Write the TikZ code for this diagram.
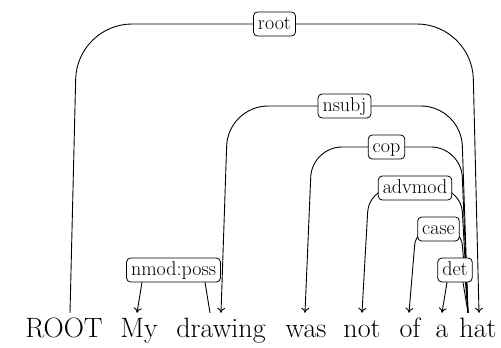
\documentclass[tikz,border=0pt]{standalone}
\usepackage{fontspec}
\usetikzlibrary{arrows.meta,calc,backgrounds}
\begin{document}
\begin{tikzpicture}[x=1pt,y=-1pt,
  word/.style={anchor=base, inner sep=0pt, text height=24pt, text depth=6pt,
    font=\fontsize{28}{32}\selectfont},
  deplabel/.style={draw, fill=white, line width=0.8pt, rounded corners=4pt,
    inner xsep=4.5pt, inner ysep=3pt, text height=14pt, text depth=4pt,
    font=\fontsize{20}{24}\selectfont},
  depedge/.style={line width=0.9pt, -{To[length=5pt,width=8pt]}},
]
\useasboundingbox (0,0) rectangle (501,348);

% the sentence
\node[word] (w0) at (64,337)  {ROOT};
\node[word] (w1) at (139,337) {My};
\node[word] (w2) at (221,337) {drawing};
\node[word] (w3) at (306,337) {was};
\node[word] (w4) at (362,337) {not};
\node[word] (w5) at (410,337) {of};
\node[word] (w6) at (442,337) {a};
\node[word] (w7) at (478,337) {hat};

% edge end points on the words
\coordinate (root-out) at ([xshift=6pt]w0.north);
\coordinate (my-in)    at ([xshift=-2pt]w1.north);
\coordinate (draw-out) at ([xshift=-11pt]w2.north);
\coordinate (draw-in)  at (w2.north);
\coordinate (was-in)   at ([xshift=-1pt]w3.north);
\coordinate (not-in)   at (w4.north);
\coordinate (of-in)    at ([xshift=-1pt]w5.north);
\coordinate (a-in)     at (w6.north);
\coordinate (hat-out)  at ([xshift=-10pt]w7.north);
\coordinate (hat-in)   at ([xshift=1pt]w7.north);

% relation labels
\node[deplabel] (l-root)   at (274.5,24)  {root};
\node[deplabel] (l-nsubj)  at (344.5,106) {nsubj};
\node[deplabel] (l-cop)    at (386.5,147) {cop};
\node[deplabel] (l-advmod) at (415,188)   {advmod};
\node[deplabel] (l-case)   at (438.5,229) {case};
\node[deplabel] (l-det)    at (455,270)   {det};
\node[deplabel] (l-nmod)   at (173.5,270) {nmod:poss};

% dependency arcs, drawn beneath the labels
\begin{scope}[on background layer]
  \draw[depedge, rounded corners=55pt] (root-out)
    -- ($(root-out |- l-root)+(7,0)$) -- ($(hat-in |- l-root)+(-7,0)$) -- (hat-in);
  \draw[depedge, rounded corners=40pt] (hat-out)
    -- ($(hat-out |- l-nsubj)+(-7,0)$) -- ($(draw-in |- l-nsubj)+(7,0)$) -- (draw-in);
  \draw[depedge, rounded corners=30pt] (hat-out)
    -- ($(hat-out |- l-cop)+(-7,0)$) -- ($(was-in |- l-cop)+(7,0)$) -- (was-in);
  \draw[depedge, rounded corners=24pt] (hat-out)
    -- ($(hat-out |- l-advmod)+(-7,0)$) -- ($(not-in |- l-advmod)+(7,0)$) -- (not-in);
  \draw[depedge, rounded corners=16pt] (hat-out)
    -- ($(hat-out |- l-case)+(-7,0)$) -- ($(of-in |- l-case)+(7,0)$) -- (of-in);
  \draw[depedge, rounded corners=9pt] (hat-out)
    -- ($(hat-out |- l-det)+(-7,0)$) -- ($(a-in |- l-det)+(7,0)$) -- (a-in);
  \draw[depedge, rounded corners=9pt] (draw-out)
    -- ($(draw-out |- l-nmod)+(-7,0)$) -- ($(my-in |- l-nmod)+(7,0)$) -- (my-in);
\end{scope}
\end{tikzpicture}
\end{document}
